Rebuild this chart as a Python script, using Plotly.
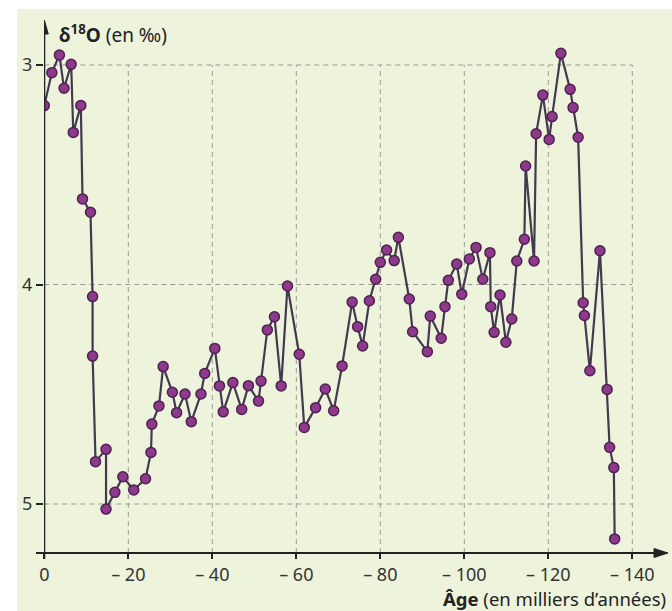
import plotly.graph_objects as go

# Age (thousands of years, negative = past) and oxygen isotope ratio δ18O (‰)
ages = [0, -1.8, -3.6, -4.7, -6.4, -6.9, -8.7, -9.1, -11.0, -11.5, -11.5, -12.2,
        -14.7, -14.7, -16.8, -18.7, -21.3, -24.1, -25.4, -25.6, -27.3, -28.3,
        -30.5, -31.5, -33.5, -35.0, -37.3, -38.2, -40.6, -41.7, -42.6, -44.9,
        -47.0, -48.6, -51.0, -51.6, -53.1, -54.8, -56.4, -57.9, -60.7, -61.9,
        -64.6, -66.9, -68.9, -70.9, -73.3, -74.6, -75.8, -77.4, -78.9, -80.0,
        -81.5, -83.3, -84.3, -86.9, -87.7, -91.2, -91.9, -94.5, -95.4, -96.2,
        -98.2, -99.4, -101.2, -102.8, -104.4, -106.1, -106.3, -107.1, -108.5,
        -109.9, -111.3, -112.5, -114.3, -114.6, -116.6, -117.1, -118.7, -120.2,
        -120.9, -123.0, -125.2, -125.9, -127.1, -128.3, -128.6, -129.9, -132.3,
        -134.0, -134.6, -135.6, -135.8]
d18o = [3.185, 3.035, 2.955, 3.106, 2.997, 3.307, 3.184, 3.61, 3.671, 4.055, 4.326,
        4.807, 4.751, 5.023, 4.947, 4.876, 4.936, 4.885, 4.765, 4.636, 4.553, 4.374,
        4.491, 4.584, 4.499, 4.625, 4.499, 4.405, 4.291, 4.462, 4.58, 4.447, 4.569,
        4.461, 4.531, 4.44, 4.207, 4.147, 4.462, 4.007, 4.318, 4.651, 4.561, 4.476,
        4.575, 4.371, 4.08, 4.192, 4.28, 4.074, 3.976, 3.899, 3.843, 3.891, 3.785,
        4.066, 4.215, 4.306, 4.144, 4.245, 4.101, 3.981, 3.907, 4.044, 3.884, 3.831,
        3.976, 3.855, 4.101, 4.218, 4.048, 4.263, 4.157, 3.893, 3.794, 3.46, 3.893,
        3.313, 3.137, 3.339, 3.235, 2.947, 3.111, 3.194, 3.329, 4.083, 4.141, 4.393,
        3.846, 4.478, 4.742, 4.834, 5.159]

x_ticks = [0, -20, -40, -60, -80, -100, -120, -140]
x_tick_text = ["0", "– 20", "– 40", "– 60", "– 80", "– 100", "– 120", "– 140"]
y_ticks = [3, 4, 5]
y_tick_text = ["3", "4", "5"]

W, H = 672, 611
ML, MR, MT, MB = 44, 5, 20, 58
PW, PH = W - ML - MR, H - MT - MB

X_RANGE = [0.07, -148.26]
Y_RANGE = [5.2232, 2.795]

FONT = "Noto Sans, Open Sans, sans-serif"
INK = "#222222"
BG = "#eef3dc"
GRID = "#9a9a90"


def px_x(p):
    """Horizontal pixel -> paper fraction."""
    return (p - ML) / PW


def px_y(p):
    """Vertical pixel -> paper fraction."""
    return (H - MB - p) / PH


fig = go.Figure()

fig.add_trace(go.Scatter(
    x=ages, y=d18o, mode="lines+markers",
    line=dict(color="#433a4f", width=2.2),
    marker=dict(size=10, color="#8e3a8c", line=dict(color="#4f2150", width=1.5)),
    hoverinfo="x+y", showlegend=False,
))

shapes = []
# white page margins
shapes.append(dict(type="rect", xref="paper", yref="paper", x0=-1, x1=px_x(17),
                   y0=-1, y1=2, fillcolor="white", line=dict(width=0), layer="below"))
shapes.append(dict(type="rect", xref="paper", yref="paper", x0=-1, x1=2,
                   y0=px_y(9), y1=2, fillcolor="white", line=dict(width=0), layer="below"))

# dashed grid
for v in y_ticks:
    shapes.append(dict(type="line", xref="x", yref="y", x0=0, x1=-140, y0=v, y1=v,
                       line=dict(color=GRID, width=1, dash="5px,4px"), layer="below"))
for a in x_ticks[1:]:
    shapes.append(dict(type="line", xref="x", yref="y", x0=a, x1=a, y0=Y_RANGE[0], y1=3,
                       line=dict(color=GRID, width=1, dash="5px,4px"), layer="below"))

# axes with arrowheads
shapes.append(dict(type="line", xref="x", yref="paper", x0=0, x1=0,
                   y0=px_y(559), y1=px_y(33), line=dict(color=INK, width=2)))
shapes.append(dict(type="path", xref="x", yref="paper",
                   path=f"M 0,{px_y(20)} L 0.95,{px_y(34)} L -0.95,{px_y(34)} Z",
                   fillcolor=INK, line=dict(color=INK, width=1)))
shapes.append(dict(type="line", xref="paper", yref="paper", x0=px_x(36), x1=px_x(656),
                   y0=0, y1=0, line=dict(color=INK, width=2)))
shapes.append(dict(type="path", xref="paper", yref="paper",
                   path=(f"M {px_x(668)},0 L {px_x(654)},{4.5 / PH} "
                         f"L {px_x(654)},{-4.5 / PH} Z"),
                   fillcolor=INK, line=dict(color=INK, width=1)))

annotations = [
    dict(xref="paper", yref="paper", x=px_x(57), y=px_y(34), xanchor="left",
         yanchor="middle", showarrow=False,
         text="<b>δ<sup>18</sup>O</b> (en ‰)",
         font=dict(family=FONT, size=19, color=INK)),
    dict(xref="paper", yref="paper", x=px_x(668), y=px_y(598), xanchor="right",
         yanchor="middle", showarrow=False,
         text="<b>Âge</b> (en milliers d’années)",
         font=dict(family=FONT, size=18.5, color=INK)),
]

fig.update_layout(
    width=W, height=H,
    margin=dict(l=ML, r=MR, t=MT, b=MB, pad=0),
    paper_bgcolor=BG, plot_bgcolor=BG,
    font=dict(family=FONT, size=18, color="#333333"),
    shapes=shapes, annotations=annotations,
    xaxis=dict(range=X_RANGE, tickvals=x_ticks, ticktext=x_tick_text,
               showgrid=False, zeroline=False, showline=False,
               ticks="outside", ticklen=5, tickwidth=1.5, tickcolor=INK,
               tickfont=dict(family=FONT, size=18, color="#333333")),
    yaxis=dict(range=Y_RANGE, tickvals=y_ticks, ticktext=y_tick_text,
               showgrid=False, zeroline=False, showline=False,
               ticks="outside", ticklen=7, tickwidth=1.5, tickcolor=INK,
               tickfont=dict(family=FONT, size=18, color="#333333")),
)

fig.write_html("out.html")
